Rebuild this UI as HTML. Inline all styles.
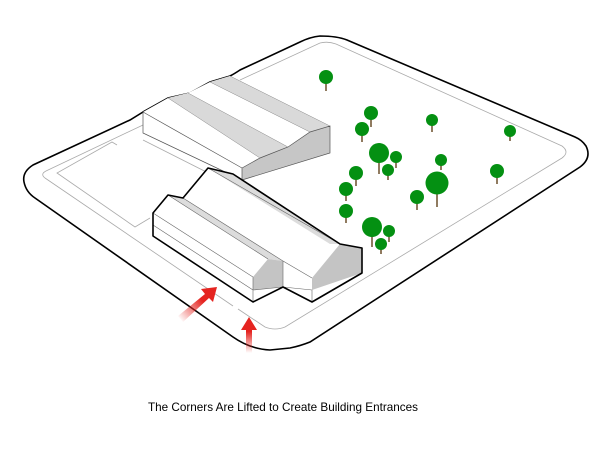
<!DOCTYPE html>
<html><head><meta charset="utf-8"><style>
html,body{margin:0;padding:0;background:#fff;}
svg{display:block}
</style></head><body>
<svg width="615" height="450" viewBox="0 0 615 450" xmlns="http://www.w3.org/2000/svg">
<defs>
<linearGradient id="g1" x1="180" y1="320" x2="217" y2="287" gradientUnits="userSpaceOnUse">
<stop offset="0" stop-color="#e52420" stop-opacity="0"/><stop offset="0.6" stop-color="#e52420"/></linearGradient>
<linearGradient id="g2" x1="0" y1="353" x2="0" y2="317" gradientUnits="userSpaceOnUse">
<stop offset="0" stop-color="#e52420" stop-opacity="0"/><stop offset="0.6" stop-color="#e52420"/></linearGradient>
</defs>
<!-- outer lot -->
<path d="M143,112 L130,120 L33,165 Q22,172 24,182 Q26,192 35,198 L233,337 Q250,349 270,350 L290,348 Q300,346 310,342 L580,167 Q592,158 586,146 Q582,140 575,137 L347,40 Q337,36 320,36 Q310,37 300,42 L240,70 Q234,74 230,76 L210,82 L190,93 L168,98 Z" fill="#fff" stroke="#000" stroke-width="1.6"/>
<!-- inner lot line -->
<path d="M240,80 L320,43 Q328,41 336,44 L562,146 Q570,152 562,158 L285,327 Q275,331 265,327 L238,309 M233,306 L45,178 Q40,174 46,171 L143,125" fill="none" stroke="#aaa" stroke-width="0.8"/>
<path d="M117,145 L112,142 L57,173 L135,227 L150,218" fill="none" stroke="#aaa" stroke-width="0.8"/>
<path d="M143,140 L242,190" fill="none" stroke="#aaa" stroke-width="0.8"/>
<!-- back building -->
<path d="M143,112 L168,98 L188,93 L210,82 L230,76 L330,126 L330,153 L242,180 L143,133 Z" fill="#fff" stroke="none"/>
<polygon points="168,98 188,93 288,147 260,158" fill="#d9d9d9"/>
<polygon points="210,82 230,76 330,126 310,132" fill="#d9d9d9"/>
<polygon points="242,168 260,158 288,147 310,132 330,126 330,153 242,180" fill="#c6c6c6" stroke="#555" stroke-width="0.7"/>
<path d="M143,112 L242,168 M143,112 L143,133 L242,180" fill="none" stroke="#555" stroke-width="0.7"/>
<path d="M168,98 L260,158 M188,93 L288,147 M210,82 L310,132 M230,76 L330,126" fill="none" stroke="#888" stroke-width="0.5"/>
<!-- front building -->
<polygon points="208,168 233,174 340,244 362,248 362,273 312,302 283,287 253,302 153,236 153,213 168,195 183,198" fill="#fff"/>
<polygon points="168,195 183,198 283,261 268,259" fill="#dcdcdc"/>
<polygon points="208,168 233,174 340,244 330,244" fill="#dcdcdc"/>
<polygon points="253,277 268,259 283,261 283,287 253,290" fill="#c4c4c4"/>
<polygon points="312,278 340,244 362,248 362,273 312,290" fill="#c4c4c4"/>
<path d="M153,213 L253,277 L253,302 M153,225 L253,290 M168,195 L268,259 M183,198 L283,261 L283,287 M208,168 L340,244 M283,287 L312,290 L312,302 M283,261 L312,278 M253,290 L283,287" fill="none" stroke="#666" stroke-width="0.6"/>
<polygon points="208,168 233,174 340,244 362,248 362,273 312,302 283,287 253,302 153,236 153,213 168,195 183,198" fill="none" stroke="#000" stroke-width="1.6" stroke-linejoin="round"/>
<!-- trees -->
<g stroke="#6b4f2a" stroke-width="1.5">
<line x1="326" y1="77" x2="326" y2="91"/><line x1="371" y1="113" x2="371" y2="127"/><line x1="362" y1="129" x2="362" y2="142"/>
<line x1="432" y1="120" x2="432" y2="132"/><line x1="510" y1="131" x2="510" y2="141"/><line x1="379" y1="153" x2="379" y2="174"/>
<line x1="396" y1="157" x2="396" y2="168"/><line x1="388" y1="170" x2="388" y2="180"/><line x1="441" y1="160" x2="441" y2="170"/>
<line x1="356" y1="173" x2="356" y2="186"/><line x1="346" y1="189" x2="346" y2="201"/><line x1="437" y1="183" x2="437" y2="207"/>
<line x1="417" y1="197" x2="417" y2="210"/><line x1="497" y1="171" x2="497" y2="184"/><line x1="346" y1="211" x2="346" y2="223"/>
<line x1="372" y1="227" x2="372" y2="247"/><line x1="389" y1="231" x2="389" y2="242"/><line x1="381" y1="244" x2="381" y2="254"/>
</g>
<g fill="#049012">
<circle cx="326" cy="77" r="7"/><circle cx="371" cy="113" r="7"/><circle cx="362" cy="129" r="7"/>
<circle cx="432" cy="120" r="6"/><circle cx="510" cy="131" r="6"/><circle cx="379" cy="153" r="10"/>
<circle cx="396" cy="157" r="6"/><circle cx="388" cy="170" r="6"/><circle cx="441" cy="160" r="6"/>
<circle cx="356" cy="173" r="7"/><circle cx="346" cy="189" r="7"/><circle cx="437" cy="183" r="11.5"/>
<circle cx="417" cy="197" r="7"/><circle cx="497" cy="171" r="7"/><circle cx="346" cy="211" r="7"/>
<circle cx="372" cy="227" r="10"/><circle cx="389" cy="231" r="6"/><circle cx="381" cy="244" r="6"/>
</g>
<!-- arrows -->
<path d="M178,316 L205,294 L201,289 L217,287 L213,302 L209,298 L183,322 Z" fill="url(#g1)"/>
<path d="M246,353 L246,330 L241,330 L249,317 L257,330 L252,330 L252,353 Z" fill="url(#g2)"/>
<text x="148" y="411" font-family="Liberation Sans, sans-serif" font-size="12" textLength="270" lengthAdjust="spacingAndGlyphs" fill="#000">The Corners Are Lifted to Create Building Entrances</text>
</svg>
</body></html>
